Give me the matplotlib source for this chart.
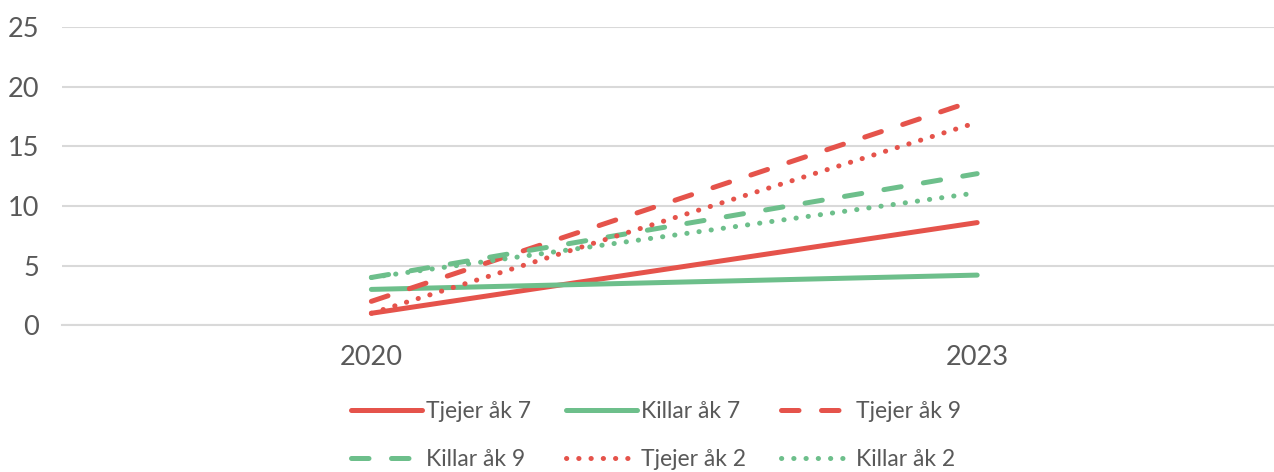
import matplotlib.pyplot as plt

years = ['2020', '2023']
tjejer_ak7 = [1.0, 8.6]
killar_ak7 = [3.0, 4.2]
tjejer_ak9 = [2.0, 18.9]
killar_ak9 = [4.0, 12.7]
tjejer_ak2 = [1.0, 17.0]
killar_ak2 = [4.0, 11.1]

red = '#e5534b'
green = '#6dbf8b'
text_col = '#595959'

plt.rcParams['font.family'] = ['Lato', 'DejaVu Sans']

fig = plt.figure(figsize=(12.74, 4.72), dpi=100)
ax = fig.add_axes([0.049, 0.311, 0.951, 0.632])

x = range(len(years))
lw = 3.6
series = [
    (tjejer_ak7, 'Tjejer åk 7', red, None),
    (killar_ak7, 'Killar åk 7', green, None),
    (tjejer_ak9, 'Tjejer åk 9', red, (0, (3.5, 4.5))),
    (killar_ak9, 'Killar åk 9', green, (0, (3.5, 4.5))),
    (tjejer_ak2, 'Tjejer åk 2', red, (0, (0.05, 2.4))),
    (killar_ak2, 'Killar åk 2', green, (0, (0.05, 2.4))),
]
handles = []
for vals, label, col, dash in series:
    if dash is None:
        h, = ax.plot(x, vals, color=col, lw=lw, label=label, solid_capstyle='round')
    else:
        h, = ax.plot(x, vals, color=col, lw=lw, label=label, linestyle=dash,
                     dash_capstyle='round')
    handles.append(h)

ax.set_xlim(-0.51, 1.49)
ax.set_ylim(0, 25)
ax.set_yticks(range(0, 26, 5))
ax.set_xticks(list(x))
ax.set_xticklabels(years)
ax.grid(axis='y', color='#d9d9d9', lw=1.5)
ax.set_axisbelow(True)
for s in ['top', 'right', 'left']:
    ax.spines[s].set_visible(False)
ax.spines['bottom'].set_color('#d9d9d9')
ax.spines['bottom'].set_linewidth(1.5)
ax.tick_params(axis='both', length=0, labelsize=19.5, colors=text_col)
ax.tick_params(axis='x', pad=14)
ax.tick_params(axis='y', pad=17)

# row-major order for a 3-column legend
order = [0, 3, 1, 4, 2, 5]
fig.legend([handles[i] for i in order], [series[i][1] for i in order],
           loc='upper center', bbox_to_anchor=(0.515, 0.195), ncol=3, frameon=False,
           fontsize=16.5, labelcolor=text_col, handlelength=3.1, handletextpad=0.2,
           columnspacing=1.5, labelspacing=1.2)

fig.savefig('out.png', dpi=100)
